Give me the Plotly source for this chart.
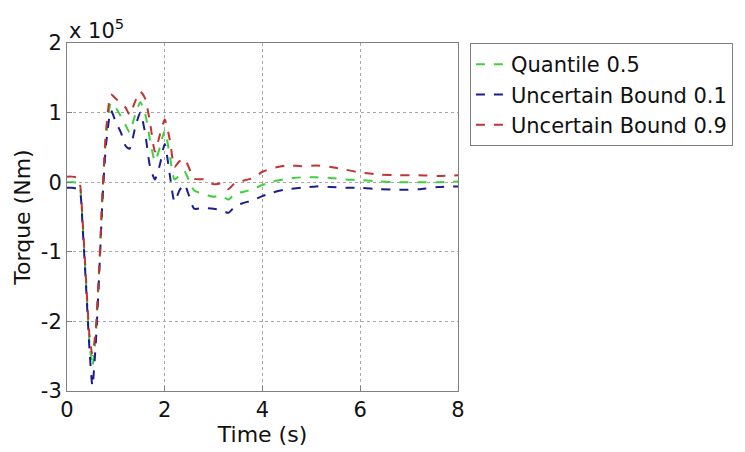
import plotly.graph_objects as go

# Time (s)
time_s = [0, 0.1, 0.22, 0.27, 0.32, 0.39, 0.46, 0.52, 0.59, 0.66, 0.73, 0.8, 0.9, 1.0, 1.1, 1.2, 1.28,
          1.4, 1.5, 1.6, 1.7, 1.8, 1.9, 2.0, 2.1, 2.2, 2.3, 2.4, 2.5, 2.6, 2.8, 3.0, 3.15, 3.3, 3.45,
          3.6, 3.8, 4.0, 4.2, 4.5, 4.8, 5.1, 5.4, 5.7, 6.0, 6.4, 6.8, 7.2, 7.6, 8.0]

# Torque in units of 1e5 Nm
quantile_05 = [0.0, 0.0, -0.01, -0.1, -0.6, -1.45, -2.3, -2.65, -2.2, -1.25, -0.15, 0.65, 1.14, 1.07, 0.95, 0.82, 0.72,
               0.98, 1.15, 0.98, 0.6, 0.3, 0.5, 0.74, 0.4, 0.04, 0.1, 0.16, 0.02, -0.12, -0.17, -0.21, -0.19, -0.25, -0.16,
               -0.14, -0.1, -0.04, 0.01, 0.05, 0.07, 0.07, 0.06, 0.04, 0.03, 0.01, 0.0, 0.0, 0.0, 0.01]
bound_01 = [-0.08, -0.08, -0.1, -0.15, -0.65, -1.5, -2.4, -2.93, -2.3, -1.3, -0.2, 0.55, 1.03, 0.86, 0.72, 0.52, 0.48,
            0.8, 1.0, 0.7, 0.22, 0.04, 0.25, 0.55, 0.12, -0.28, -0.12, -0.03, -0.2, -0.38, -0.37, -0.38, -0.4, -0.44, -0.34,
            -0.3, -0.26, -0.2, -0.15, -0.1, -0.08, -0.06, -0.07, -0.08, -0.08, -0.1, -0.11, -0.1, -0.07, -0.06]
bound_09 = [0.08, 0.08, 0.06, -0.05, -0.55, -1.4, -2.2, -2.48, -2.1, -1.2, -0.1, 0.75, 1.26, 1.2, 1.14, 1.07, 0.97,
            1.17, 1.3, 1.2, 0.85, 0.44, 0.68, 0.9, 0.62, 0.22, 0.3, 0.34, 0.2, 0.05, 0.04, -0.03, -0.02, -0.1, 0.0,
            0.02, 0.06, 0.15, 0.2, 0.24, 0.23, 0.24, 0.22, 0.18, 0.14, 0.11, 0.1, 0.1, 0.09, 0.1]

series_names = ["Quantile 0.5", "Uncertain Bound 0.1", "Uncertain Bound 0.9"]
series_colors = ["#3fcf3f", "#1c1c8f", "#c23434"]

x_ticks = [0, 2, 4, 6, 8]
y_ticks = [-3, -2, -1, 0, 1, 2]

fig = go.Figure()
for name, vals, col in zip(series_names, [quantile_05, bound_01, bound_09], series_colors):
    fig.add_trace(go.Scatter(x=time_s, y=vals, mode="lines", name=name,
                             line=dict(color=col, width=2, dash="dash", shape="spline", smoothing=0.6)))

font = "DejaVu Sans, Liberation Sans, Arial, sans-serif"
axis_common = dict(showline=True, linecolor="#808080", linewidth=1, mirror=True,
                   showgrid=True, gridcolor="#a8a8a8", griddash="dot", gridwidth=1,
                   ticks="inside", ticklen=5, tickcolor="#808080", zeroline=False,
                   tickfont=dict(family=font, size=21, color="#111111"))

fig.update_layout(
    width=745, height=452,
    margin=dict(l=67, r=285, t=43, b=57),
    paper_bgcolor="white", plot_bgcolor="white",
    font=dict(family=font, color="#111111"),
    showlegend=True,
    legend=dict(x=1.0305, y=1.0, xanchor="left", yanchor="top",
                bordercolor="#808080", borderwidth=1, bgcolor="white",
                font=dict(family=font, size=21, color="#111111"),
                tracegroupgap=0, itemwidth=30),
    xaxis=dict(range=[0, 8], tickvals=x_ticks, ticktext=[str(v) for v in x_ticks],
               title=dict(text="Time (s)", font=dict(family=font, size=22), standoff=2),
               **axis_common),
    yaxis=dict(range=[-3, 2], tickvals=y_ticks, ticktext=[str(v) for v in y_ticks],
               title=dict(text="Torque (Nm)", font=dict(family=font, size=22), standoff=4),
               **axis_common),
)
fig.add_annotation(xref="paper", yref="paper", x=0.0, y=1.0, xanchor="left", yanchor="bottom",
                   text="x 10<sup>5</sup>", showarrow=False, yshift=-2,
                   font=dict(family=font, size=21, color="#111111"))

fig.write_html("out.html")
